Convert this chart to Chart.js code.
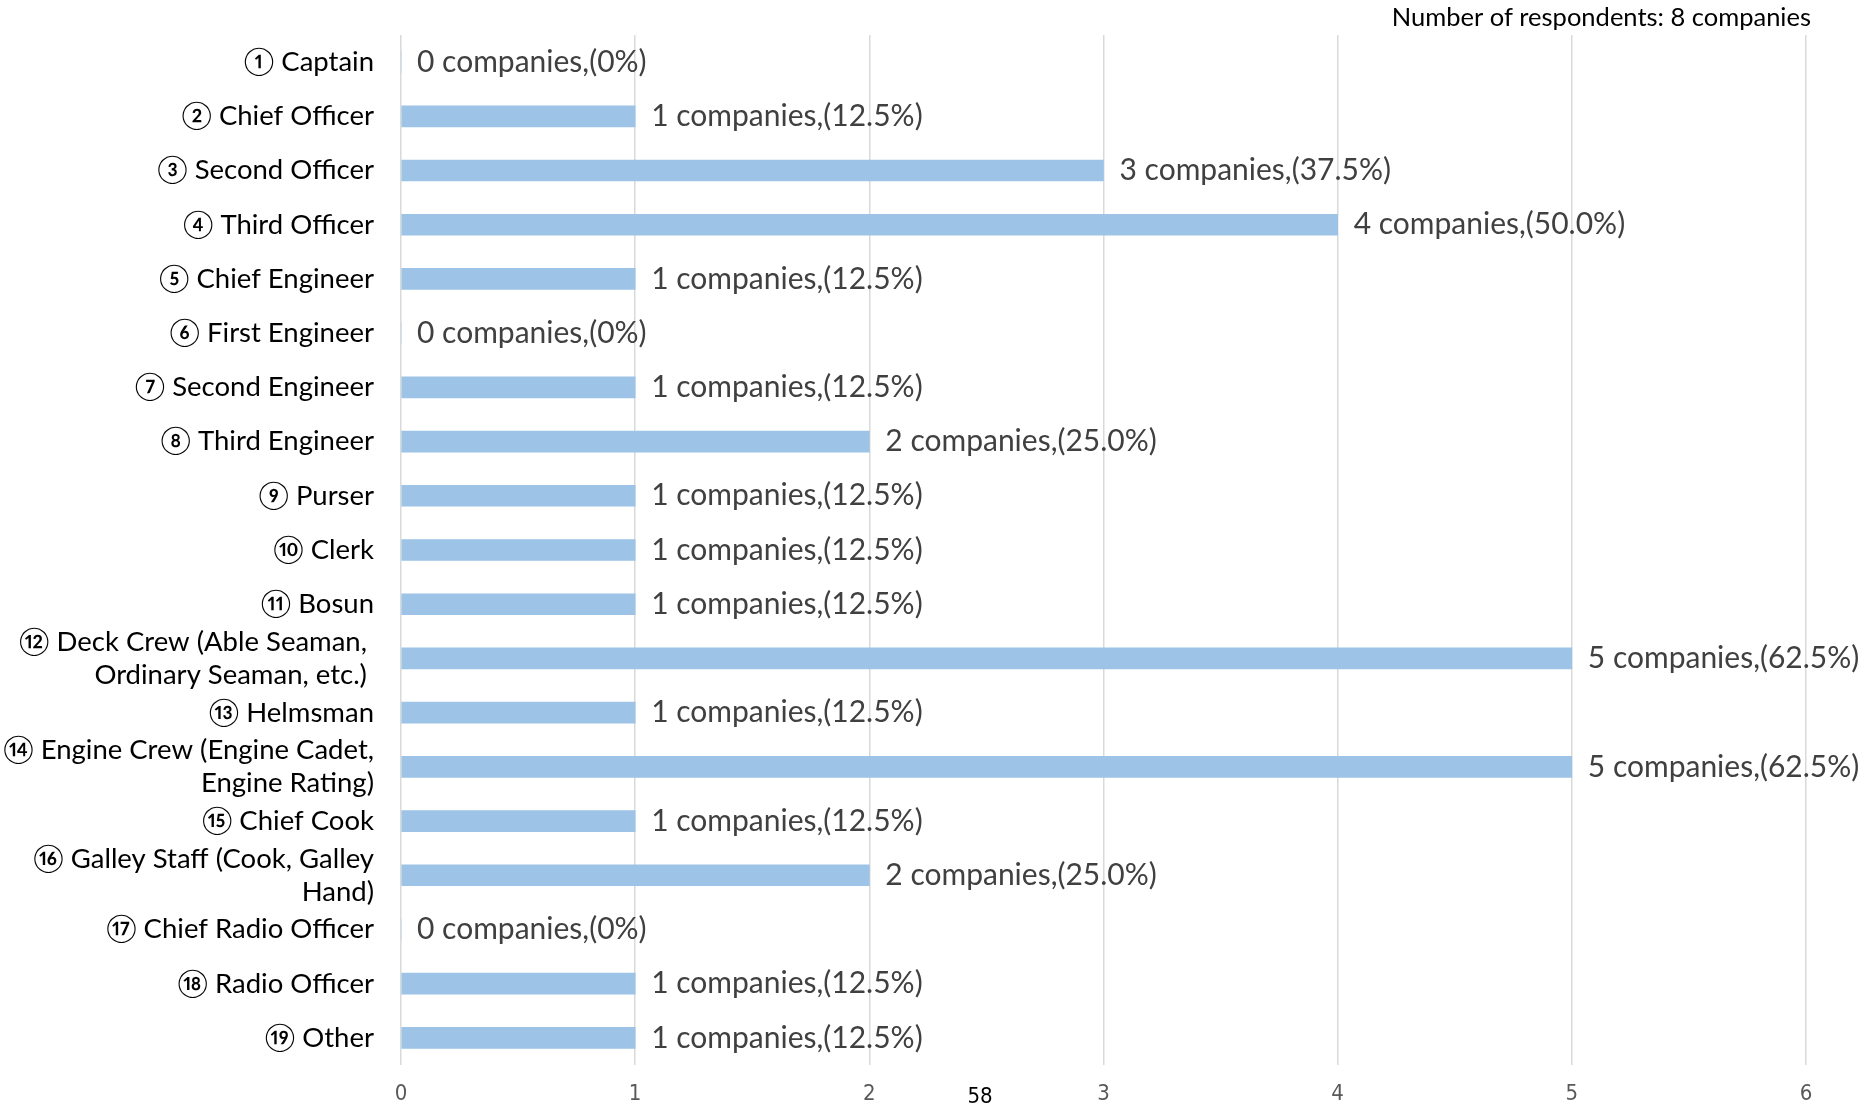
<!DOCTYPE html>
<html>
<head>
<meta charset="utf-8">
<script src="https://cdn.jsdelivr.net/npm/chart.js@4.4.1/dist/chart.umd.min.js"></script>
<style>
    html, body { margin: 0; padding: 0; background: #fff; }
    #wrap { position: relative; width: 1862px; height: 1107px; }
</style>
</head>
<body>
<div id="wrap"><canvas id="chart-posts"></canvas></div>
<script>
const posts = [
    '① Captain',
    '② Chief Officer',
    '③ Second Officer',
    '④ Third Officer',
    '⑤ Chief Engineer',
    '⑥ First Engineer',
    '⑦ Second Engineer',
    '⑧ Third Engineer',
    '⑨ Purser',
    '⑩ Clerk',
    '⑪ Bosun',
    ['⑫ Deck Crew (Able Seaman, ', 'Ordinary Seaman, etc.) '],
    '⑬ Helmsman',
    ['⑭ Engine Crew (Engine Cadet,', 'Engine Rating)'],
    '⑮ Chief Cook',
    ['⑯ Galley Staff (Cook, Galley', 'Hand)'],
    '⑰ Chief Radio Officer',
    '⑱ Radio Officer',
    '⑲ Other'
];
const companies = [0, 1, 3, 4, 1, 0, 1, 2, 1, 1, 1, 5, 1, 5, 1, 2, 0, 1, 1];
const shares = ['0%', '12.5%', '37.5%', '50.0%', '12.5%', '0%', '12.5%', '25.0%', '12.5%', '12.5%',
    '12.5%', '62.5%', '12.5%', '62.5%', '12.5%', '25.0%', '0%', '12.5%', '12.5%'];
const xTicks = [0, 1, 2, 3, 4, 5, 6];
const respondents = 'Number of respondents: 8 companies';
const pageNo = '58';

const labelFont = "Lato, 'Noto Sans CJK JP', sans-serif";
const narrowFont = "'Liberation Sans Narrow', 'DejaVu Sans Condensed', sans-serif";

const canvasPosts = document.getElementById('chart-posts');

// labels at the end of each bar + the respondents note + page number
const extraText = {
    id: 'extraText',
    afterDatasetsDraw(chart) {
        const ctx = chart.ctx;
        const meta = chart.getDatasetMeta(0);
        ctx.save();
        ctx.font = `30px ${labelFont}`;
        ctx.fillStyle = '#404040';
        ctx.textAlign = 'left';
        ctx.textBaseline = 'middle';
        meta.data.forEach((bar, i) => {
            ctx.fillText(`${companies[i]} companies,(${shares[i]})`, bar.x + 16, bar.y);
        });
        ctx.fillStyle = '#000';
        ctx.font = `25.5px ${labelFont}`;
        ctx.textAlign = 'right';
        ctx.fillText(respondents, 1811, 18);
        ctx.font = `22px ${narrowFont}`;
        ctx.textAlign = 'center';
        ctx.fillText(pageNo, 980, 1097);
        ctx.restore();
    }
};

const noPad = (scale) => {
    scale.paddingTop = 0;
    scale.paddingBottom = 0;
    scale.paddingLeft = 0;
    scale.paddingRight = 0;
};

new Chart(canvasPosts, {
    type: 'bar',
    data: {
        labels: posts,
        datasets: [{
            data: companies,
            backgroundColor: '#9dc3e6',
            borderWidth: 0,
            barThickness: 21
        }]
    },
    options: {
        indexAxis: 'y',
        responsive: true,
        maintainAspectRatio: false,
        animation: false,
        layout: { padding: { top: 35, right: 56, left: 0, bottom: 0 } },
        plugins: {
            legend: { display: false },
            tooltip: { enabled: false }
        },
        scales: {
            x: {
                min: 0,
                max: 6,
                afterBuildTicks: (scale) => { scale.ticks = xTicks.map(v => ({ value: v })); },
                afterFit: (scale) => { scale.height = 42; noPad(scale); },
                grid: { color: '#d9d9d9', lineWidth: 1.5, drawTicks: false },
                border: { display: false },
                ticks: {
                    padding: 16,
                    color: '#595959',
                    font: { family: narrowFont, size: 22 }
                }
            },
            y: {
                afterFit: (scale) => { scale.width = 401; noPad(scale); },
                grid: { display: false, drawTicks: false },
                border: { display: false },
                ticks: {
                    padding: 27,
                    color: '#000',
                    autoSkip: false,
                    font: { family: labelFont, size: 27.5, lineHeight: 1.2 }
                }
            }
        }
    },
    plugins: [extraText]
});
</script>
</body>
</html>
